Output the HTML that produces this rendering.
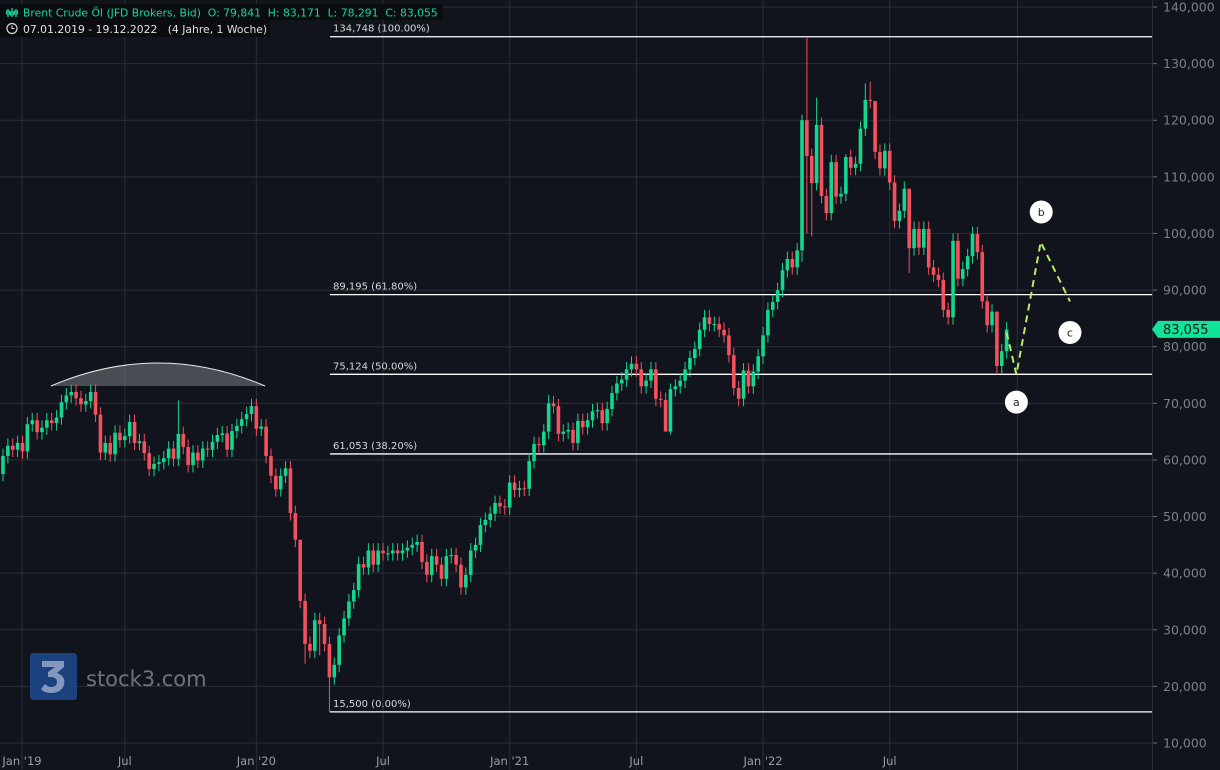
<!DOCTYPE html>
<html><head><meta charset="utf-8">
<style>
html,body{margin:0;padding:0;background:#11141c;}
#wrap{position:relative;width:1220px;height:770px;overflow:hidden;background:#11141c;font-family:"Liberation Sans","DejaVu Sans",sans-serif;}
svg text{font-family:"DejaVu Sans","Liberation Sans",sans-serif;}
</style></head>
<body>
<div id="wrap">
<svg id="chart" width="1220" height="770" xmlns="http://www.w3.org/2000/svg"></svg>
</div>
<script>
// ---- data ----
const yTicks = [10,20,30,40,50,60,70,80,90,100,110,120,130,140];
const yTickLabels = ["10,000","20,000","30,000","40,000","50,000","60,000","70,000","80,000","90,000","100,000","110,000","120,000","130,000","140,000"];
const xTickWeeks = [3.9,25,52,78,104,130,156,182];
const xTickLabels = ["Jan '19","Jul","Jan '20","Jul","Jan '21","Jul","Jan '22","Jul"];
const firstOpen = 57.5;
const closes = [
60.7,62.5,61.8,63,61.5,66.3,67,64.9,65.7,67,66.5,67.5,70.2,71.4,72,70.9,69.8,70.4,72,68,
61.3,63,61,64.8,63.5,64.2,66.7,63,63.3,61.2,58.4,59.3,59.6,60.3,62,60.2,64.6,62.3,59.1,61.3,
59.9,62,61.8,63.2,64.4,64.7,61.8,65.1,66,67.2,68.1,69.5,65.5,65.9,60.7,57.2,54.8,57.2,58.5,50.6,
45.9,35.1,27.5,26.3,31.7,31,27.5,21.6,23.8,29,32,35,37,41.6,41,44,41.5,44,43.5,43.5,
44,43.5,44,44.5,45,45.5,42,39.7,43,41.5,39,43,43.2,41.5,37.5,39.7,44,45,48.5,49.4,
50.5,52.4,51.8,51.6,56,54.7,55,54.9,59.8,62.8,62.6,65,70,69.5,64.6,65,65.3,63,66.9,65.8,
67,68.6,68.8,66.5,69,71.8,73.5,74.2,76,77,76,73,74,76,70.8,70.6,65,72.5,73,74,
76,78,79.6,83,85.2,84,84,83,82,78.5,72.7,70.8,75.8,73,75.6,78.3,82,86.5,87.9,90,
93.5,95.5,94,97,120,113.7,108.9,119.2,106.6,103.6,112.6,106.5,107,113.5,111.6,112.3,118.5,123.6,123.4,114.4,
111.5,114.6,109,102.2,104,107.9,97.4,100.8,97.5,100.8,94,92.7,91.8,86.5,85.2,98.7,92,93.7,96,99.9,
96.7,88,83.8,86.2,76.6,79.2,83.055
];
const highOverrides = {36:70.5,61:40,164:121,165:134.7,167:124,173:114,177:126.5,178:126.8,179:123,186:102,204:79,156:83.5,137:73.5,112:71.5};
const lowOverrides = {67:15.5,164:95,165:100,166:99.5,186:93,136:66,204:75.1,137:64.5,62:24,65:25.5};
const wickSize = [1.3];
const fibLevels = [134.748,89.195,75.124,61.053,15.5];
const fibLabels = ["134,748 (100.00%)","89,195 (61.80%)","75,124 (50.00%)","61,053 (38.20%)","15,500 (0.00%)"];
const waveWeeks = [206,208,213,219];
const waveValues = [82.5,75.1,98.5,88];
const waveLabelNames = ["a","b","c"];
const waveLabelWeeks = [208,213.1,219];
const waveLabelValues = [70.2,103.8,82.5];

// ---- scales ----
const NS="http://www.w3.org/2000/svg";
const svg=document.getElementById('chart');
function y(v){return 7+(140-v)*5.6615;}
function x(i){return 3+i*4.872;}
function el(tag,attrs,parent){const e=document.createElementNS(NS,tag);for(const k in attrs)e.setAttribute(k,attrs[k]);(parent||svg).appendChild(e);return e;}

// grid
const grid=el('g',{});


yTicks.forEach(v=>{el('line',{x1:0,x2:1152,y1:y(v),y2:y(v),stroke:'#2a2e38','stroke-width':1},grid);});
xTickWeeks.forEach(w=>{el('line',{x1:x(w),x2:x(w),y1:0,y2:770,stroke:'#2a2e38','stroke-width':1},grid);});
el('line',{x1:x(208.2),x2:x(208.2),y1:0,y2:770,stroke:'#2a2e38','stroke-width':1},grid);

// watermark
const wm=el('g',{});


el('rect',{x:30,y:653,width:47,height:47,rx:3,fill:'#1d4a8f',opacity:0.85},wm);
el('path',{d:'M42 661 H64 V667 L57 673 Q66 676 64 685 Q61 693 51 693 Q44 693 41 689 L45 684 Q48 687 51 687 Q57 687 57 682 Q57 677 50 677 H48 V672 L55 667 H42 Z',fill:'#8ea3c4',opacity:0.9},wm);
const wt=el('text',{x:86,y:686,fill:'#6f737c','font-size':21,'font-family':'Liberation Sans, sans-serif'},wm);
wt.textContent='stock3.com';

// arc
const arc=el('path',{d:'M51 386 Q158 340 265 386 Z',fill:'rgba(120,123,130,0.55)',stroke:'none'});


el('path',{d:'M51 386 Q158 340 265 386',fill:'none',stroke:'#e8e8e8','stroke-width':1});

// fib lines
fibLevels.forEach((v,k)=>{
  const g=el('g',{});
  
  
  el('line',{x1:330,x2:1152,y1:y(v),y2:y(v),stroke:'#ffffff','stroke-width':1.3},g);
  const t=el('text',{x:333,y:y(v)-5,fill:'#d6d6d6','font-size':10},g);
  t.textContent=fibLabels[k];
});

// candles
const cg=el('g',{});


let prev=firstOpen;
closes.forEach((c,i)=>{
  const o=prev;prev=c;
  const up=c>=o;
  const col=up?'#14d68f':'#f4505e';
  const hi=(highOverrides[i]!==undefined)?highOverrides[i]:Math.max(o,c)+wickSize[0];
  const lo=(lowOverrides[i]!==undefined)?lowOverrides[i]:Math.min(o,c)-wickSize[0];
  const g=el('g',{},cg);
  
  
  const cx=x(i);
  el('line',{x1:cx,x2:cx,y1:y(hi),y2:y(lo),stroke:col,'stroke-width':1},g);
  const top=y(Math.max(o,c)),bot=y(Math.min(o,c));
  el('rect',{x:cx-1.8,y:top,width:3.6,height:Math.max(1,bot-top),fill:col},g);
});

// wave projection
const pts=waveWeeks.map((w,k)=>x(w)+','+y(waveValues[k])).join(' ');
const wave=el('polyline',{points:pts,fill:'none',stroke:'#b5ec6a','stroke-width':2,'stroke-dasharray':'7,5'});


waveLabelNames.forEach((n,k)=>{
  const g=el('g',{});
  
  
  el('circle',{cx:x(waveLabelWeeks[k]),cy:y(waveLabelValues[k]),r:11.5,fill:'#ffffff'},g);
  const t=el('text',{x:x(waveLabelWeeks[k]),y:y(waveLabelValues[k])+4,fill:'#222','font-size':11,'text-anchor':'middle'},g);
  t.textContent=n;
});

// price axis
const ax=el('g',{});


el('rect',{x:1152,y:0,width:68,height:770,fill:'#11141c'},ax);
el('line',{x1:1152.5,x2:1152.5,y1:0,y2:770,stroke:'#2a2e38','stroke-width':1},ax);
yTicks.forEach((v,k)=>{
  el('line',{x1:1153,x2:1157,y1:y(v),y2:y(v),stroke:'#6b6f78','stroke-width':1},ax);
  const t=el('text',{x:1163,y:y(v)+4.5,fill:'#7b7f88','font-size':12.5},ax);
  t.textContent=yTickLabels[k];
});
const tag=el('g',{});


const py=y(closes[closes.length-1]);
el('path',{d:`M1152 ${py} L1158 ${py-8.5} H1220 V${py+8.5} H1158 Z`,fill:'#12e39b'},tag);
const pt=el('text',{x:1163,y:py+4.7,fill:'#0b1a14','font-size':13},tag);
pt.textContent='83,055';

// time axis labels
const tx=el('g',{});


xTickWeeks.forEach((w,k)=>{
  const t=el('text',{x:x(w),y:765,fill:'#9a9ea7','font-size':11.5,'text-anchor':'middle'},tx);
  t.textContent=xTickLabels[k];
});

// header legend
const hd=el('g',{});


el('rect',{x:0,y:4,width:443,height:16,fill:'#0a0c10'},hd);
el('rect',{x:0,y:20,width:270,height:17,fill:'#0a0c10'},hd);
el('path',{d:'M8 9v8M12 8v9M16 9v8',stroke:'#14d6a0','stroke-width':1.3},hd);
el('rect',{x:6.5,y:11,width:3,height:3,fill:'none',stroke:'#14d6a0'},hd);
el('rect',{x:10.5,y:12,width:3,height:3,fill:'none',stroke:'#14d6a0'},hd);
el('rect',{x:14.5,y:11,width:3,height:3,fill:'none',stroke:'#14d6a0'},hd);
const h1=el('text',{x:23,y:16.5,fill:'#14d6a0','font-size':10.8},hd);
h1.textContent='Brent Crude Öl (JFD Brokers, Bid)  O: 79,841  H: 83,171  L: 78,291  C: 83,055';
h1.style.whiteSpace='pre';
el('circle',{cx:12,cy:28.5,r:5,fill:'none',stroke:'#d8d8d8','stroke-width':1.2},hd);
el('path',{d:'M12 25.5v3h2.5',fill:'none',stroke:'#d8d8d8','stroke-width':1.1},hd);
const h2=el('text',{x:23,y:33,fill:'#e0e0e0','font-size':10.8},hd);
h2.textContent='07.01.2019 - 19.12.2022   (4 Jahre, 1 Woche)';
h2.style.whiteSpace='pre';
</script>
</body></html>
